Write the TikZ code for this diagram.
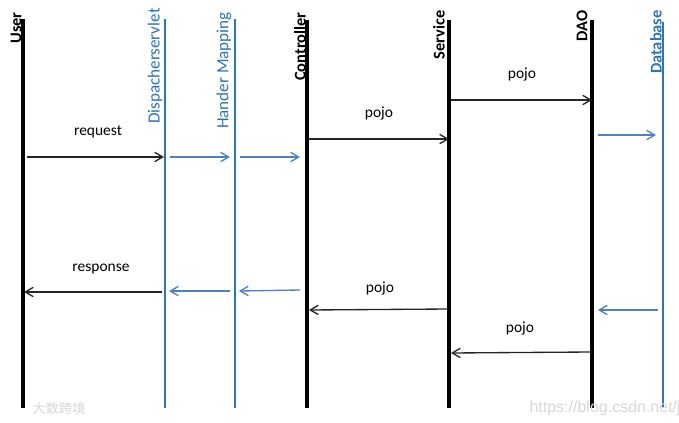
\documentclass[tikz,border=0pt]{standalone}
\usepackage{fontspec}
\setmainfont{Carlito}
\newfontfamily\wmfont{Liberation Sans}
\newfontfamily\cjkwm{Noto Sans CJK SC}
\usetikzlibrary{arrows.meta}
\definecolor{lineblue}{RGB}{46,117,182}
\definecolor{arrblue}{RGB}{79,129,189}
\definecolor{wmgray}{RGB}{215,215,215}
\tikzset{
  thickline/.style={line width=3pt,black},
  thinline/.style={line width=1pt,lineblue},
  lbl/.style={rotate=90,anchor=east,inner sep=0pt},
  blacklbl/.style={lbl,font=\fontsize{12.3pt}{14pt}\selectfont\bfseries},
  bluelbl/.style={lbl,text=lineblue,font=\fontsize{12.8pt}{15pt}\selectfont},
  msg/.style={draw=black!85,line width=1pt,-{Straight Barb[length=6pt,width=7pt]}},
  bmsg/.style={draw=arrblue,line width=1pt,-{Straight Barb[length=6pt,width=7pt]}},
  mlbl/.style={inner sep=0pt,font=\fontsize{11.6pt}{13pt}\selectfont}
}
\begin{document}
\begin{tikzpicture}[x=0.75pt,y=-0.75pt]
\useasboundingbox[fill=white] (0,0) rectangle (679,422);
% lifelines
\draw[thickline] (23,19) coordinate (uT) -- (23,408) coordinate (uB);
\draw[thinline] (165,19) coordinate (dT) -- (165,408) coordinate (dB);
\draw[thinline] (235,19) coordinate (hT) -- (235,408) coordinate (hB);
\draw[thickline] (307,20) coordinate (cT) -- (307,408) coordinate (cB);
\draw[thickline] (449,20) coordinate (sT) -- (449,408) coordinate (sB);
\draw[thickline] (592,20) coordinate (oT) -- (592,408) coordinate (oB);
\draw[thinline] (663,22) coordinate (bT) -- (663,408) coordinate (bB);
% labels
\node[blacklbl] (lUser) at (16,12) {User};
\node[bluelbl] (lDisp) at (155,8) {Dispacherservlet};
\node[bluelbl] (lHand) at (224,12) {Hander Mapping};
\node[blacklbl] (lCtrl) at (300,12) {Controller};
\node[blacklbl] (lServ) at (439,10) {Service};
\node[blacklbl] (lDAO) at (582,10) {DAO};
\node[blacklbl,text=lineblue] (lDB) at (656,10) {Database};
% request path
\coordinate (r1a) at (27,157); \coordinate (r1b) at (164,157);
\coordinate (r2a) at (170,157); \coordinate (r2b) at (230,157);
\coordinate (r3a) at (240,157); \coordinate (r3b) at (300,157);
\coordinate (r4a) at (309,139); \coordinate (r4b) at (449,139);
\coordinate (r5a) at (451,100); \coordinate (r5b) at (592,100);
\coordinate (r6a) at (598,135); \coordinate (r6b) at (656,135);
\draw[msg] (r1a) -- (r1b);
\draw[bmsg] (r2a) -- (r2b);
\draw[bmsg] (r3a) -- (r3b);
\draw[msg] (r4a) -- (r4b);
\draw[msg] (r5a) -- (r5b);
\draw[bmsg] (r6a) -- (r6b);
\node[mlbl] (tReq) at (98,132) {request};
\node[mlbl] (tP1) at (379,114) {pojo};
\node[mlbl] (tP2) at (522,75) {pojo};
% response path
\coordinate (s1a) at (162,292); \coordinate (s1b) at (24,292);
\coordinate (s2a) at (230,291); \coordinate (s2b) at (169,291);
\coordinate (s3a) at (300,290); \coordinate (s3b) at (239,291);
\coordinate (s4a) at (448,309); \coordinate (s4b) at (309,310);
\coordinate (s5a) at (590,352); \coordinate (s5b) at (451,353);
\coordinate (s6a) at (658,310); \coordinate (s6b) at (598,310);
\draw[msg] (s1a) -- (s1b);
\draw[bmsg] (s2a) -- (s2b);
\draw[bmsg] (s3a) -- (s3b);
\draw[msg] (s4a) -- (s4b);
\draw[msg] (s5a) -- (s5b);
\draw[bmsg] (s6a) -- (s6b);
\node[mlbl] (tResp) at (101,269) {response};
\node[mlbl] (tP3) at (380,289) {pojo};
\node[mlbl] (tP4) at (520,328) {pojo};
% watermarks
\node[anchor=west,inner sep=0pt,text=wmgray,font=\cjkwm\fontsize{10pt}{12pt}\selectfont] (wm1) at (32,408) {大数跨境};
\node[anchor=east,inner sep=0pt,text=wmgray,font=\wmfont\fontsize{12pt}{14pt}\selectfont] (wm2) at (681,408) {https://blog.csdn.net/j};
\end{tikzpicture}
\end{document}
